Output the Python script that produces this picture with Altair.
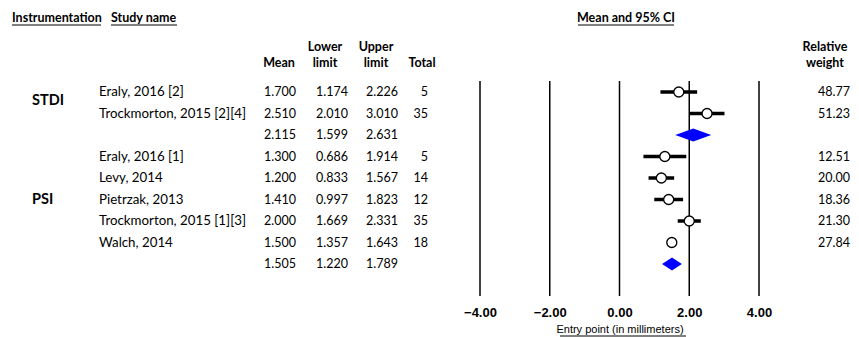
import altair as alt
import pandas as pd

# ---------------- data ----------------
studies = ["Eraly, 2016 [2]", "Trockmorton, 2015 [2][4]", "", "Eraly, 2016 [1]", "Levy,  2014",
           "Pietrzak, 2013", "Trockmorton, 2015 [1][3]", "Walch, 2014", ""]
kinds = ["study", "study", "summary", "study", "study", "study", "study", "study", "summary"]
means = [1.700, 2.510, 2.115, 1.300, 1.200, 1.410, 2.000, 1.500, 1.505]
lowers = [1.174, 2.010, 1.599, 0.686, 0.833, 0.997, 1.669, 1.357, 1.220]
uppers = [2.226, 3.010, 2.631, 1.914, 1.567, 1.823, 2.331, 1.643, 1.789]
totals = ["5", "35", "", "5", "14", "12", "35", "18", ""]
weights = ["48.77", "51.23", "", "12.51", "20.00", "18.36", "21.30", "27.84", ""]
groups = ["STDI", "PSI"]
group_rows = [0.4, 5]
axis_ticks = [-4, -2, 0, 2, 4]

FONT = "Lato"
AXFONT = "Liberation Sans"
OFF = 8  # page margin

rows = list(range(len(studies)))
df = pd.DataFrame({"row": rows, "study": studies, "kind": kinds, "mean": means,
                   "lower": lowers, "upper": uppers, "total": totals, "weight": weights})
study_df = df[df.kind == "study"]
summ_df = df[df.kind == "summary"]

# diamond polygons for the summary rows
half = 0.30
dia = []
for _, r in summ_df.iterrows():
    dia.append({"grp": r.row, "xv": r.lower, "ylo": r.row, "yhi": r.row})
    dia.append({"grp": r.row, "xv": r["mean"], "ylo": r.row - half, "yhi": r.row + half})
    dia.append({"grp": r.row, "xv": r.upper, "ylo": r.row, "yhi": r.row})
dia_df = pd.DataFrame(dia)

xscale = alt.Scale(domain=[-4, 4], range=[480 - OFF, 759 - OFF], nice=False, zero=False)
yscale = alt.Scale(domain=[0, 8], range=[92 - OFF, 264 - OFF], nice=False, zero=False)

xaxis = alt.Axis(values=axis_ticks, format=".2f", domain=False, ticks=False, tickSize=0, grid=False,
                 labelFlush=False, labelBound=False, labelOverlap=False,
                 labelFont=AXFONT, labelFontSize=13, labelFontWeight="bold", labelColor="black",
                 labelPadding=6, title="Entry point (in millimeters)", titleFont=AXFONT,
                 titleFontSize=11, titleFontWeight="normal", titleColor="black", titlePadding=4)

vlines = alt.Chart(pd.DataFrame({"t": axis_ticks})).mark_rule(color="black", strokeWidth=1.5).encode(
    x=alt.X("t:Q", scale=xscale, axis=xaxis),
    y=alt.value(81 - OFF), y2=alt.value(296 - OFF))

ci = alt.Chart(study_df).mark_rule(color="black", strokeWidth=3.5).encode(
    x=alt.X("lower:Q", scale=xscale), x2="upper:Q",
    y=alt.Y("row:Q", scale=yscale, axis=None))

pts = alt.Chart(study_df).mark_point(shape="circle", filled=True, fill="white", stroke="black",
                                      strokeWidth=1.3, size=100, opacity=1).encode(
    x=alt.X("mean:Q", scale=xscale), y=alt.Y("row:Q", scale=yscale, axis=None))

diam = alt.Chart(dia_df).mark_area(color="#0000FF", opacity=1).encode(
    x=alt.X("xv:Q", scale=xscale), y=alt.Y("ylo:Q", scale=yscale, axis=None), y2="yhi:Q",
    detail="grp:N")


def col(field, x, align, fmt=None, size=12.5):
    enc = dict(x=alt.value(x - OFF), y=alt.Y("row:Q", scale=yscale, axis=None))
    enc["text"] = alt.Text(field, format=fmt) if fmt else alt.Text(field)
    return alt.Chart(df).mark_text(align=align, baseline="middle", font=FONT, fontSize=size,
                                   color="black").encode(**enc)


def label(text, x, y, align="left", size=12.5, bold=True):
    return alt.Chart(pd.DataFrame({"t": [text]})).mark_text(
        align=align, baseline="middle", font=FONT, fontSize=size,
        fontWeight="bold" if bold else "normal", color="black").encode(
        x=alt.value(x - OFF), y=alt.value(y - OFF), text="t:N")


def underline(x1, x2, y):
    return alt.Chart(pd.DataFrame({"a": [0]})).mark_rule(color="black", strokeWidth=1).encode(
        x=alt.value(x1 - OFF), x2=alt.value(x2 - OFF), y=alt.value(y - OFF))


texts = [
    col("study:N", 99, "left", size=13.3),
    col("mean:Q", 296, "right", ".3f"),
    col("lower:Q", 348, "right", ".3f"),
    col("upper:Q", 398, "right", ".3f"),
    col("total:N", 428, "right"),
    col("weight:N", 850, "right"),
]

grp_df = pd.DataFrame({"g": groups, "row": group_rows})
grp_text = alt.Chart(grp_df).mark_text(align="left", baseline="middle", font=FONT, fontSize=14.5,
                                        fontWeight="bold", color="black").encode(
    x=alt.value(32 - OFF), y=alt.Y("row:Q", scale=yscale, axis=None), text="g:N")

headers = [
    label("Instrumentation", 12, 18), underline(12, 101, 25),
    label("Study name", 111, 18), underline(111, 177, 25),
    label("Mean and 95% CI", 626, 18, "center"), underline(578, 674, 25),
    label("Lower", 325, 47, "center"), label("limit", 325, 63, "center"),
    label("Upper", 376, 47, "center"), label("limit", 376, 63, "center"),
    label("Mean", 279, 63, "center"), label("Total", 422, 63, "center"),
    label("Relative", 825, 47, "center"), label("weight", 825, 63, "center"),
    underline(560, 686, 336),
]

chart = alt.layer(vlines, ci, pts, diam, grp_text, *texts, *headers).properties(
    width=843, height=292,
    background="white",
    autosize=alt.AutoSizeParams(type="none"),
    padding={"left": 0, "top": 0, "right": 0, "bottom": 37},
).configure_view(strokeWidth=0, stroke="transparent")

chart.save("out.html", embed_options={"renderer": "svg", "actions": False})
